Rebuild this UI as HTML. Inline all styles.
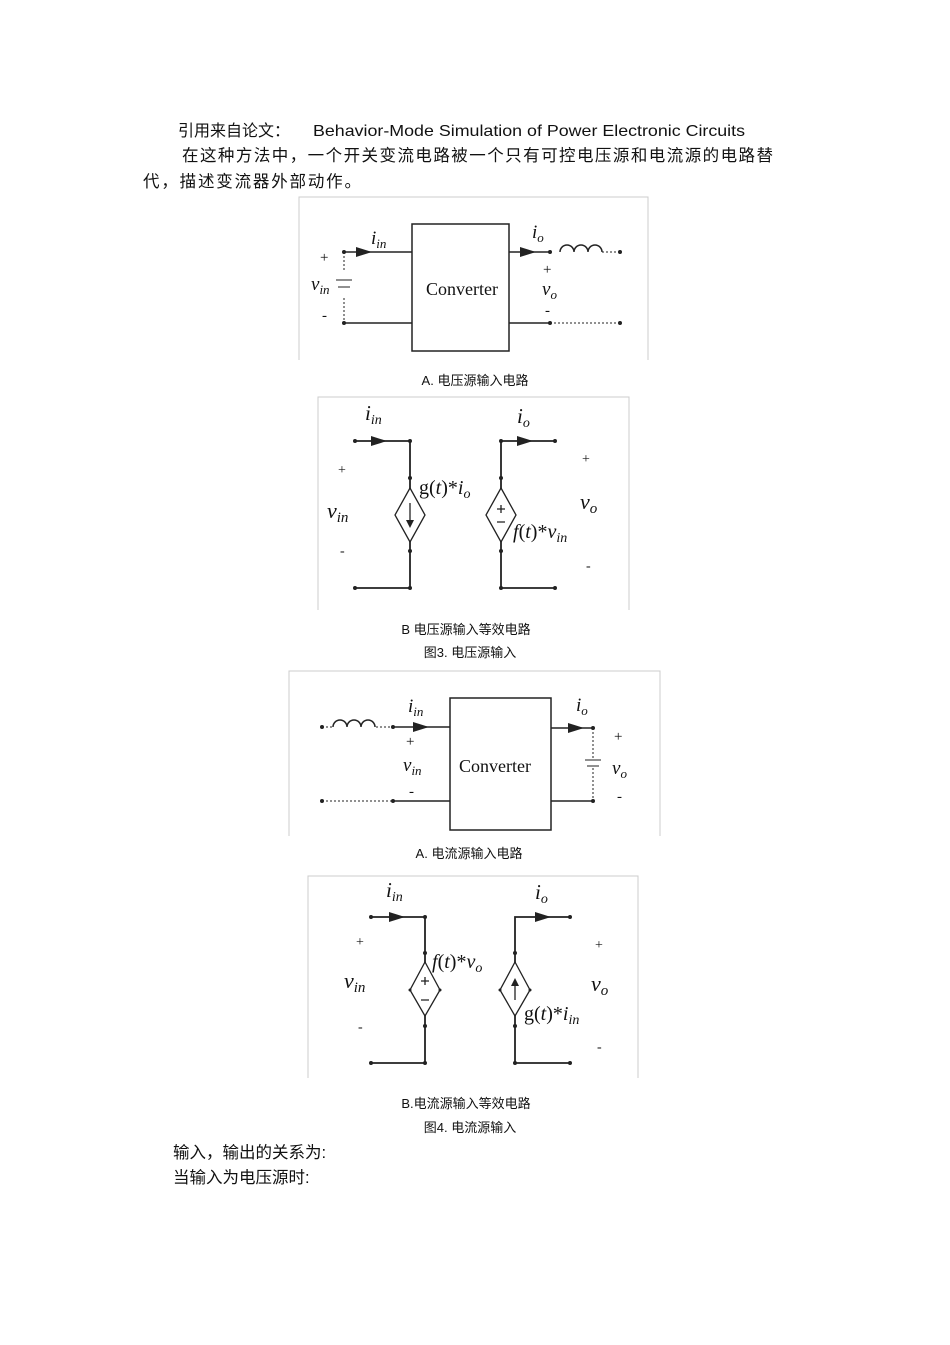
<!DOCTYPE html>
<html><head><meta charset="utf-8"><style>
html,body{margin:0;padding:0;background:#fff;}
svg{display:block;}
.t{font-family:"Liberation Sans","Noto Sans CJK SC",sans-serif;fill:#111;}
.s{font-family:"Liberation Serif",serif;fill:#111;}
.i{font-family:"Liberation Serif",serif;font-style:italic;fill:#111;}
</style></head><body>
<svg width="950" height="1345" viewBox="0 0 950 1345" xmlns="http://www.w3.org/2000/svg">
<g class="t">
<text x="178" y="136" font-size="16">引用来自论文：</text>
<text x="313" y="136" font-size="16" textLength="432" lengthAdjust="spacingAndGlyphs">Behavior-Mode Simulation of Power Electronic Circuits</text>
<text x="182" y="161" font-size="16.5" textLength="591" lengthAdjust="spacing">在这种方法中，一个开关变流电路被一个只有可控电压源和电流源的电路替</text>
<text x="143" y="187" font-size="16.5" textLength="218" lengthAdjust="spacing">代，描述变流器外部动作。</text>
<text x="475" y="385" font-size="13" text-anchor="middle">A.  电压源输入电路</text>
<text x="466" y="634" font-size="13" text-anchor="middle">B  电压源输入等效电路</text>
<text x="470" y="657" font-size="13" text-anchor="middle">图3. 电压源输入</text>
<text x="469" y="858" font-size="13" text-anchor="middle">A.  电流源输入电路</text>
<text x="466" y="1108" font-size="13" text-anchor="middle">B.电流源输入等效电路</text>
<text x="470" y="1132" font-size="13" text-anchor="middle">图4. 电流源输入</text>
<text x="173" y="1158" font-size="16.5">输入，输出的关系为:</text>
<text x="173" y="1183" font-size="16.5">当输入为电压源时:</text>
</g>

<!-- Diagram 1 -->
<g stroke="#ccc" stroke-width="1" fill="none">
<path d="M299 360V197H648V360"/>
</g>
<g stroke="#222" stroke-width="1.5" fill="none">
<rect x="412" y="224" width="97" height="127"/>
<path d="M344 252H412M344 323H412M509 252H550M509 323H550"/>
<path d="M344 252V272M344 298V323" stroke-dasharray="2 2" stroke-width="1"/>
<path d="M336 280H352M338 287H350" stroke-width="1"/>
<path d="M602 252H620M550 323H620" stroke-dasharray="2 2" stroke-width="1"/>
<path d="M560 252a7 7 0 0 1 14 0a7 7 0 0 1 14 0a7 7 0 0 1 14 0"/>
</g>
<g fill="#222">
<polygon points="356,247 372,252 356,257"/><polygon points="520,247 536,252 520,257"/>
<circle cx="344" cy="252" r="2"/><circle cx="344" cy="323" r="2"/><circle cx="550" cy="252" r="2"/><circle cx="550" cy="323" r="2"/><circle cx="620" cy="252" r="2"/><circle cx="620" cy="323" r="2"/>
</g>
<text class="s" x="426" y="295" font-size="18">Converter</text>
<text class="s" x="320" y="262" font-size="15">+</text>
<text class="s" x="322" y="320" font-size="15">-</text>
<text class="i" x="311" y="290" font-size="19">v<tspan font-size="13" dy="4">in</tspan></text>
<text class="i" x="371" y="244" font-size="19">i<tspan font-size="13" dy="4">in</tspan></text>
<text class="i" x="532" y="238" font-size="19">i<tspan font-size="13" dy="4">o</tspan></text>
<text class="s" x="543" y="274" font-size="15">+</text>
<text class="i" x="542" y="295" font-size="19">v<tspan font-size="13" dy="4">o</tspan></text>
<text class="s" x="545" y="315" font-size="15">-</text>

<!-- Diagram 2 -->
<g stroke="#ccc" stroke-width="1" fill="none"><path d="M318 610V397H629V610"/></g>
<g stroke="#222" stroke-width="1.8" fill="none">
<path d="M355 441H410V588H355"/>
<path d="M555 441H501V588H555"/>
</g>
<g stroke="#222" stroke-width="1.3" fill="#fff">
<polygon points="410,488 425,515 410,542 395,515"/>
<polygon points="501,488 516,515 501,542 486,515"/>
</g>
<g stroke="#222" stroke-width="1.3"><path d="M410 503V524"/><path d="M497 509H505M501 505V513M497 522H505"/></g>
<g fill="#222">
<polygon points="406,520 410,528 414,520"/>
<polygon points="371,436 387,441 371,446"/><polygon points="517,436 533,441 517,446"/>
<circle cx="355" cy="441" r="2"/><circle cx="410" cy="441" r="2"/><circle cx="355" cy="588" r="2"/><circle cx="410" cy="588" r="2"/><circle cx="555" cy="441" r="2"/><circle cx="501" cy="441" r="2"/><circle cx="555" cy="588" r="2"/><circle cx="501" cy="588" r="2"/>
<circle cx="410" cy="478" r="2"/><circle cx="410" cy="551" r="2"/><circle cx="501" cy="478" r="2"/><circle cx="501" cy="551" r="2"/>
</g>
<text class="i" x="365" y="420" font-size="21">i<tspan font-size="14" dy="4">in</tspan></text>
<text class="i" x="517" y="423" font-size="21">i<tspan font-size="14" dy="4">o</tspan></text>
<text class="s" x="338" y="474" font-size="14">+</text>
<text class="i" x="327" y="518" font-size="22">v<tspan font-size="15" dy="4">in</tspan></text>
<text class="s" x="340" y="555" font-size="14">-</text>
<text class="s" x="419" y="494" font-size="20">g(<tspan font-style="italic">t</tspan>)*<tspan font-style="italic">i</tspan><tspan font-style="italic" font-size="14" dy="4">o</tspan></text>
<text class="s" x="513" y="538" font-size="20"><tspan font-style="italic">f</tspan>(<tspan font-style="italic">t</tspan>)*<tspan font-style="italic">v</tspan><tspan font-style="italic" font-size="14" dy="4">in</tspan></text>
<text class="s" x="582" y="463" font-size="14">+</text>
<text class="i" x="580" y="509" font-size="22">v<tspan font-size="15" dy="4">o</tspan></text>
<text class="s" x="586" y="570" font-size="14">-</text>

<!-- Diagram 3 -->
<g stroke="#ccc" stroke-width="1" fill="none"><path d="M289 836V671H660V836"/></g>
<g stroke="#222" stroke-width="1.5" fill="none">
<rect x="450" y="698" width="101" height="132"/>
<path d="M393 727H450M393 801H450M551 728H593M551 801H593"/>
<path d="M333 727a7 7 0 0 1 14 0a7 7 0 0 1 14 0a7 7 0 0 1 14 0"/>
<path d="M322 727H333M376 727H393M322 801H393" stroke-dasharray="2 2" stroke-width="1"/>
<path d="M593 728V758M593 768V801" stroke-dasharray="2 2" stroke-width="1"/>
<path d="M585 760H601M587 766H599" stroke-width="1"/>
</g>
<g fill="#222">
<polygon points="413,722 429,727 413,732"/><polygon points="568,723 584,728 568,733"/>
<circle cx="322" cy="727" r="2"/><circle cx="393" cy="727" r="2"/><circle cx="322" cy="801" r="2"/><circle cx="393" cy="801" r="2"/><circle cx="593" cy="728" r="2"/><circle cx="593" cy="801" r="2"/>
</g>
<text class="s" x="459" y="772" font-size="18">Converter</text>
<text class="i" x="408" y="712" font-size="19">i<tspan font-size="13" dy="4">in</tspan></text>
<text class="s" x="406" y="746" font-size="15">+</text>
<text class="i" x="403" y="771" font-size="19">v<tspan font-size="13" dy="4">in</tspan></text>
<text class="s" x="409" y="796" font-size="15">-</text>
<text class="i" x="576" y="711" font-size="19">i<tspan font-size="13" dy="4">o</tspan></text>
<text class="s" x="614" y="741" font-size="15">+</text>
<text class="i" x="612" y="774" font-size="19">v<tspan font-size="13" dy="4">o</tspan></text>
<text class="s" x="617" y="801" font-size="15">-</text>

<!-- Diagram 4 -->
<g stroke="#ccc" stroke-width="1" fill="none"><path d="M308 1078V876H638V1078"/></g>
<g stroke="#222" stroke-width="1.8" fill="none">
<path d="M371 917H425V1063H371"/>
<path d="M570 917H515V1063H570"/>
</g>
<g stroke="#222" stroke-width="1.3" fill="#fff">
<polygon points="425,962 440,990 425,1016 410,990"/>
<polygon points="515,962 530,990 515,1016 500,990"/>
</g>
<g stroke="#222" stroke-width="1.3"><path d="M421 981H429M425 977V985M421 1000H429"/><path d="M515 980V1000"/></g>
<g fill="#222">
<polygon points="511,986 515,978 519,986"/>
<polygon points="389,912 405,917 389,922"/><polygon points="535,912 551,917 535,922"/>
<circle cx="371" cy="917" r="2"/><circle cx="425" cy="917" r="2"/><circle cx="371" cy="1063" r="2"/><circle cx="425" cy="1063" r="2"/><circle cx="570" cy="917" r="2"/><circle cx="570" cy="1063" r="2"/><circle cx="515" cy="1063" r="2"/>
<circle cx="425" cy="953" r="2"/><circle cx="425" cy="1026" r="2"/><circle cx="515" cy="953" r="2"/><circle cx="515" cy="1026" r="2"/><circle cx="410" cy="990" r="1.5"/><circle cx="440" cy="990" r="1.5"/><circle cx="500" cy="990" r="1.5"/><circle cx="530" cy="990" r="1.5"/>
</g>
<text class="i" x="386" y="897" font-size="21">i<tspan font-size="14" dy="4">in</tspan></text>
<text class="i" x="535" y="899" font-size="21">i<tspan font-size="14" dy="4">o</tspan></text>
<text class="s" x="356" y="946" font-size="14">+</text>
<text class="i" x="344" y="988" font-size="22">v<tspan font-size="15" dy="4">in</tspan></text>
<text class="s" x="358" y="1031" font-size="14">-</text>
<text class="s" x="432" y="968" font-size="20"><tspan font-style="italic">f</tspan>(<tspan font-style="italic">t</tspan>)*<tspan font-style="italic">v</tspan><tspan font-style="italic" font-size="14" dy="4">o</tspan></text>
<text class="s" x="524" y="1020" font-size="20">g(<tspan font-style="italic">t</tspan>)*<tspan font-style="italic">i</tspan><tspan font-style="italic" font-size="14" dy="4">in</tspan></text>
<text class="s" x="595" y="949" font-size="14">+</text>
<text class="i" x="591" y="991" font-size="22">v<tspan font-size="15" dy="4">o</tspan></text>
<text class="s" x="597" y="1051" font-size="14">-</text>
</svg>
</body></html>
